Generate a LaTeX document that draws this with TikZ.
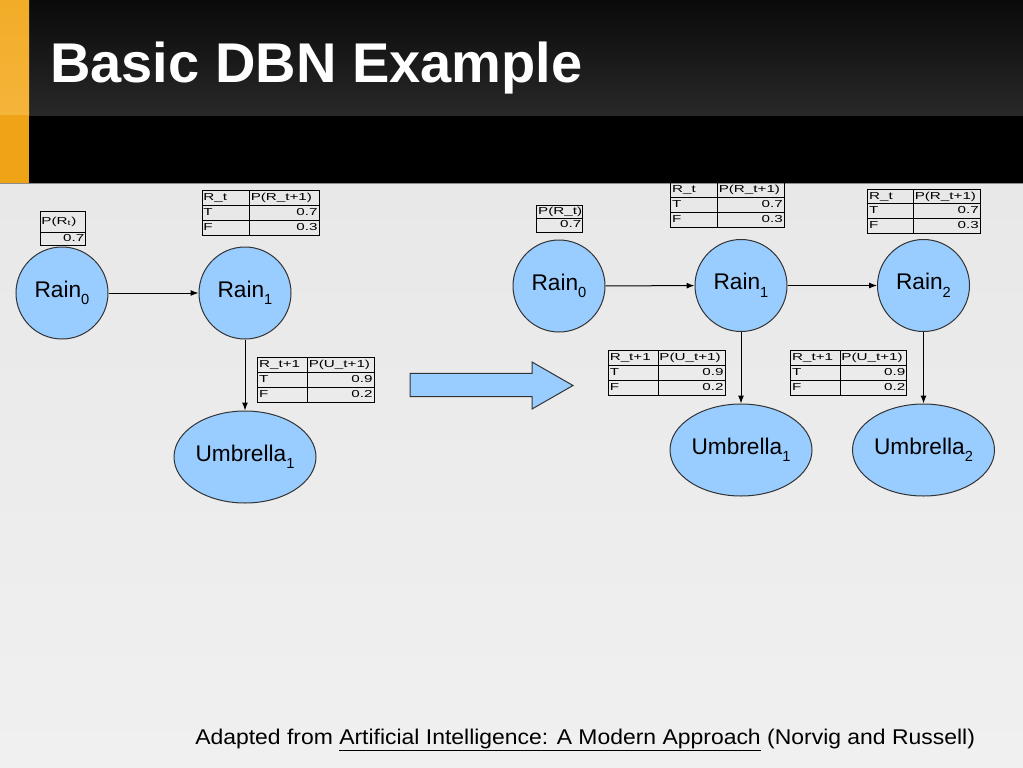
\documentclass[tikz,border=0pt]{standalone}
\usepackage{fontspec}
\setmainfont{Liberation Sans}
\newfontfamily\tabfont[FakeStretch=1.5]{Liberation Sans}
\newfontfamily\creditfont[FakeStretch=1.075]{Liberation Sans}
\usetikzlibrary{arrows.meta,shapes.geometric}
\definecolor{nodeblue}{HTML}{99CCFF}
\definecolor{bgtop}{HTML}{E8E8E8}
\definecolor{bgbot}{HTML}{F0F0F0}
\definecolor{hdrtop}{HTML}{0A0A0A}
\definecolor{hdrbot}{HTML}{282828}
\definecolor{orangetop}{HTML}{F2AC27}
\definecolor{orangemid}{HTML}{F5B43A}
\definecolor{orangebot}{HTML}{EEA416}
\newcommand{\lowsub}[1]{\raisebox{-0.33em}{\fontsize{11pt}{11pt}\selectfont #1}}
\tikzset{
  rv/.style={circle, draw=black!80, line width=0.75pt, fill=nodeblue,
    minimum size=69pt, inner sep=0pt, font=\fontsize{17pt}{20pt}\selectfont},
  uv/.style={ellipse, draw=black!80, line width=0.75pt, fill=nodeblue,
    minimum width=106.5pt, minimum height=69pt, inner sep=0pt,
    font=\fontsize{17pt}{20pt}\selectfont},
  conn/.style={draw=black, line width=0.75pt, -{Latex[length=6pt,width=4.5pt]}},
  tabline/.style={draw=black, line width=0.6pt},
  tabtxt/.style={inner sep=0.9pt, text height=5.6pt, text depth=1.6pt,
    font=\tabfont\fontsize{7.6pt}{8pt}\selectfont},
}
\newcommand{\cpdtab}[9]{%
  \pgfmathsetmacro\tya{#5+(#6-#5)/3}%
  \pgfmathsetmacro\tyb{#5+2*(#6-#5)/3}%
  \draw[tabline] (#2,#5) rectangle (#4,#6) (#3,#5) -- (#3,#6)
     (#2,\tya) -- (#4,\tya) (#2,\tyb) -- (#4,\tyb);
  \node[tabtxt,anchor=west] (#1-a) at (#2,{(#5+\tya)/2}) {#7};
  \node[tabtxt,anchor=west] (#1-b) at (#3,{(#5+\tya)/2}) {#8};
  \node[tabtxt,anchor=west] (#1-c) at (#2,{(\tya+\tyb)/2}) {T};
  \node[tabtxt,anchor=west] (#1-d) at (#2,{(\tyb+#6)/2}) {F};
  \cpdvals{#1}{#4}{(\tya+\tyb)/2}{(\tyb+#6)/2}#9\relax}
\def\cpdvals#1#2#3#4#5/#6\relax{%
  \node[tabtxt,anchor=east] (#1-e) at (#2,{#3}) {#5};
  \node[tabtxt,anchor=east] (#1-f) at (#2,{#4}) {#6};}
\begin{document}
\begin{tikzpicture}[x=0.75pt,y=-0.75pt]
\useasboundingbox (0,0) rectangle (1023,767);
% background
\shade[top color=bgtop,bottom color=bgbot] (0,183) rectangle (1023,767);
\fill[black] (0,0) rectangle (1023,183);
\shade[top color=hdrtop,bottom color=hdrbot] (0,0) rectangle (1023,115);
\draw[black!45,line width=0.75pt] (0,183.5) -- (1023,183.5);
\shade[top color=orangetop,bottom color=orangemid] (0,0) rectangle (29,115);
\fill[orangebot] (0,115) rectangle (29,183);
% title
\node[anchor=base west, inner sep=0pt, text=white,
  font=\bfseries\fontsize{42pt}{48pt}\selectfont] (title) at (50,82) {Basic DBN Example};

% ---------- left network ----------
\node[rv] (lr0) at (62,293) {Rain\lowsub{0}};
\node[rv] (lr1) at (245,293) {Rain\lowsub{1}};
\node[uv] (lu1) at (245,457) {Umbrella\lowsub{1}};
\draw[conn] (lr0) -- (lr1);
\draw[conn] (lr1) -- (lu1);

% prior table left
\draw[tabline] (40,211) rectangle (85.7,245.7) (40,232) -- (85.7,232);
\node[tabtxt,anchor=west] (lp-a) at (40,221.5) {P(R\textsubscript{t})};
\node[tabtxt,anchor=east] (lp-b) at (85.7,239) {0.7};
\cpdtab{lt}{202}{249.3}{319}{190}{235}{R\_t}{P(R\_t+1)}{0.7/0.3}
\cpdtab{lo}{257.7}{307.3}{374}{357.7}{402.7}{R\_t+1}{P(U\_t+1)}{0.9/0.2}

% big arrow
\filldraw[fill=nodeblue, draw=black!80, line width=0.75pt]
  (410,373.3) -- (532,373.3) -- (532,362) -- (573,385.5) -- (532,409) -- (532,396.7) -- (410,396.7) -- cycle;

% ---------- right network ----------
\node[rv] (rr0) at (559,286) {Rain\lowsub{0}};
\node[rv] (rr1) at (741,285.5) {Rain\lowsub{1}};
\node[rv] (rr2) at (923.5,285.5) {Rain\lowsub{2}};
\node[uv] (ru1) at (741,450) {Umbrella\lowsub{1}};
\node[uv] (ru2) at (923.5,450) {Umbrella\lowsub{2}};
\draw[conn] (rr0) -- (rr1);
\draw[conn] (rr1) -- (rr2);
\draw[conn] (rr1) -- (ru1);
\draw[conn] (rr2) -- (ru2);

\draw[tabline] (536.7,205) rectangle (582.7,232) (536.7,218.5) -- (582.7,218.5);
\node[tabtxt,anchor=west] (rp-a) at (536.7,211.75) {P(R\_t)};
\node[tabtxt,anchor=east] (rp-b) at (582.7,225.25) {0.7};
\cpdtab{rt1}{670.7}{717.3}{784.3}{182.7}{227.7}{R\_t}{P(R\_t+1)}{0.7/0.3}
\cpdtab{rt2}{867.7}{913.3}{980.3}{189}{233.3}{R\_t}{P(R\_t+1)}{0.7/0.3}
\cpdtab{ro1}{608.3}{658}{725}{350.7}{395}{R\_t+1}{P(U\_t+1)}{0.9/0.2}
\cpdtab{ro2}{790.7}{840}{906.7}{350.7}{395}{R\_t+1}{P(U\_t+1)}{0.9/0.2}

% credit
\node[anchor=base west, inner sep=0pt, font=\creditfont\fontsize{16pt}{18pt}\selectfont] (credit) at (195,744)
  {Adapted from \underline{Artificial Intelligence: A Modern Approach} (Norvig and Russell)};
\end{tikzpicture}
\end{document}
